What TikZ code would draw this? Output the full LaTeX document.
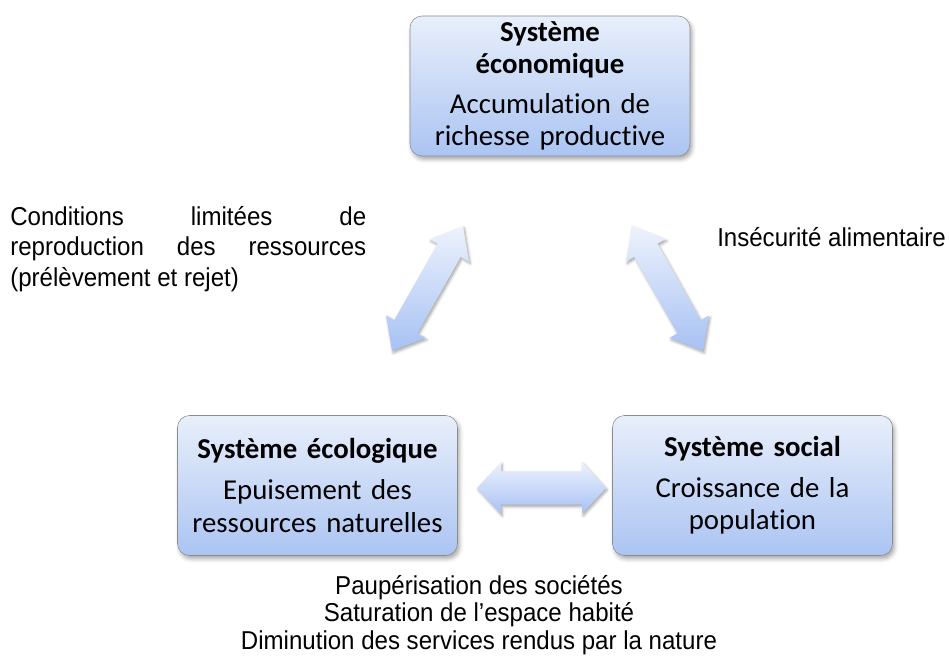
\documentclass[tikz,border=0pt]{standalone}
\usepackage{fontspec}
\setmainfont[Ligatures=NoCommon, WordSpace=0.8]{Carlito}
\newfontfamily\arialfont[FakeStretch=0.93]{Liberation Sans}
\usetikzlibrary{positioning, calc, shadows.blur}

\definecolor{boxtop}{HTML}{E8EFFB}
\definecolor{boxbottom}{HTML}{ABC4F2}
\definecolor{boxline}{HTML}{8C8C8C}
\definecolor{arrowtop}{HTML}{EDF2FC}
\definecolor{arrowbottom}{HTML}{A7C1F4}

% fat double arrow: from, to, half shaft, half head, head length
\newcommand\bigarrow[5]{%
  \coordinate (#1-h) at ($(#1)!#5!(#2)$);
  \coordinate (#2-h) at ($(#2)!#5!(#1)$);
  \path[fatarrow] (#1) -- ($(#1-h)!#4!90:(#2)$) -- ($(#1-h)!#3!90:(#2)$)
    -- ($(#2-h)!#3!-90:(#1)$) -- ($(#2-h)!#4!-90:(#1)$) -- (#2)
    -- ($(#2-h)!#4!90:(#1)$) -- ($(#2-h)!#3!90:(#1)$)
    -- ($(#1-h)!#3!-90:(#2)$) -- ($(#1-h)!#4!-90:(#2)$) -- cycle;}

\begin{document}
\begin{tikzpicture}[
    x=0.75pt, y=-0.75pt,
    % Styles
    system/.style={ % the three systems
        rectangle,
        rounded corners=9pt,
        draw=boxline,
        thin,
        top color=boxtop,
        bottom color=boxbottom,
        minimum width=210pt,
        minimum height=105pt,
        text width=200pt,
        align=center,
        font=\fontsize{21.6}{24.5}\selectfont,
        blur shadow={shadow xshift=1.5pt, shadow yshift=-2.5pt,
            shadow blur radius=3pt, shadow opacity=35}
    },
    note/.style={ % texts beside the arrows
        inner sep=0pt,
        font=\arialfont\fontsize{19.4}{23}\selectfont
    },
    fatarrow/.style={ % big shaded arrows
        top color=arrowtop,
        bottom color=arrowbottom,
        blur shadow={shadow xshift=1pt, shadow yshift=-1.5pt,
            shadow blur radius=2pt, shadow opacity=35}
    }
]
    \useasboundingbox (0,0) rectangle (950,668);

    % Systems
    \node [system] (eco) at (550,86)
        {\textbf{Système}\\\textbf{économique}\\[5pt]Accumulation de\\richesse productive};
    \node [system] (ecol) at (317.5,485.5)
        {\textbf{Système écologique}\\[6pt]Epuisement des\\ressources naturelles};
    \node [system] (soc) at (752.5,485.5)
        {\textbf{Système social}\\[6pt]Croissance de la\\population};

    % Arrow ends
    \coordinate (lt) at (463,226);
    \coordinate (lb) at (392,351);
    \coordinate (rt) at (632,226);
    \coordinate (rb) at (703,351);
    \coordinate (hl) at (477,488);
    \coordinate (hr) at (606,488);

    % Arrows
    \bigarrow{lt}{lb}{10pt}{17pt}{21pt}
    \bigarrow{rt}{rb}{10pt}{17pt}{21pt}
    \bigarrow{hl}{hr}{12.5pt}{19.5pt}{18pt}

    % Texts
    \node [note, anchor=west, align=left] (cond) at (10,249)
        {\makebox[267pt][s]{Conditions limitées de}\\
         \makebox[267pt][s]{reproduction des ressources}\\
         (prélèvement et rejet)};
    \node [note, anchor=west] (food) at (717,237) {Insécurité alimentaire};
    \node [note, align=center, font=\arialfont\fontsize{19.4}{20.6}\selectfont] (crisis) at (479,615)
        {Paupérisation des sociétés\\Saturation de l’espace habité\\Diminution des services rendus par la nature};
\end{tikzpicture}
\end{document}
